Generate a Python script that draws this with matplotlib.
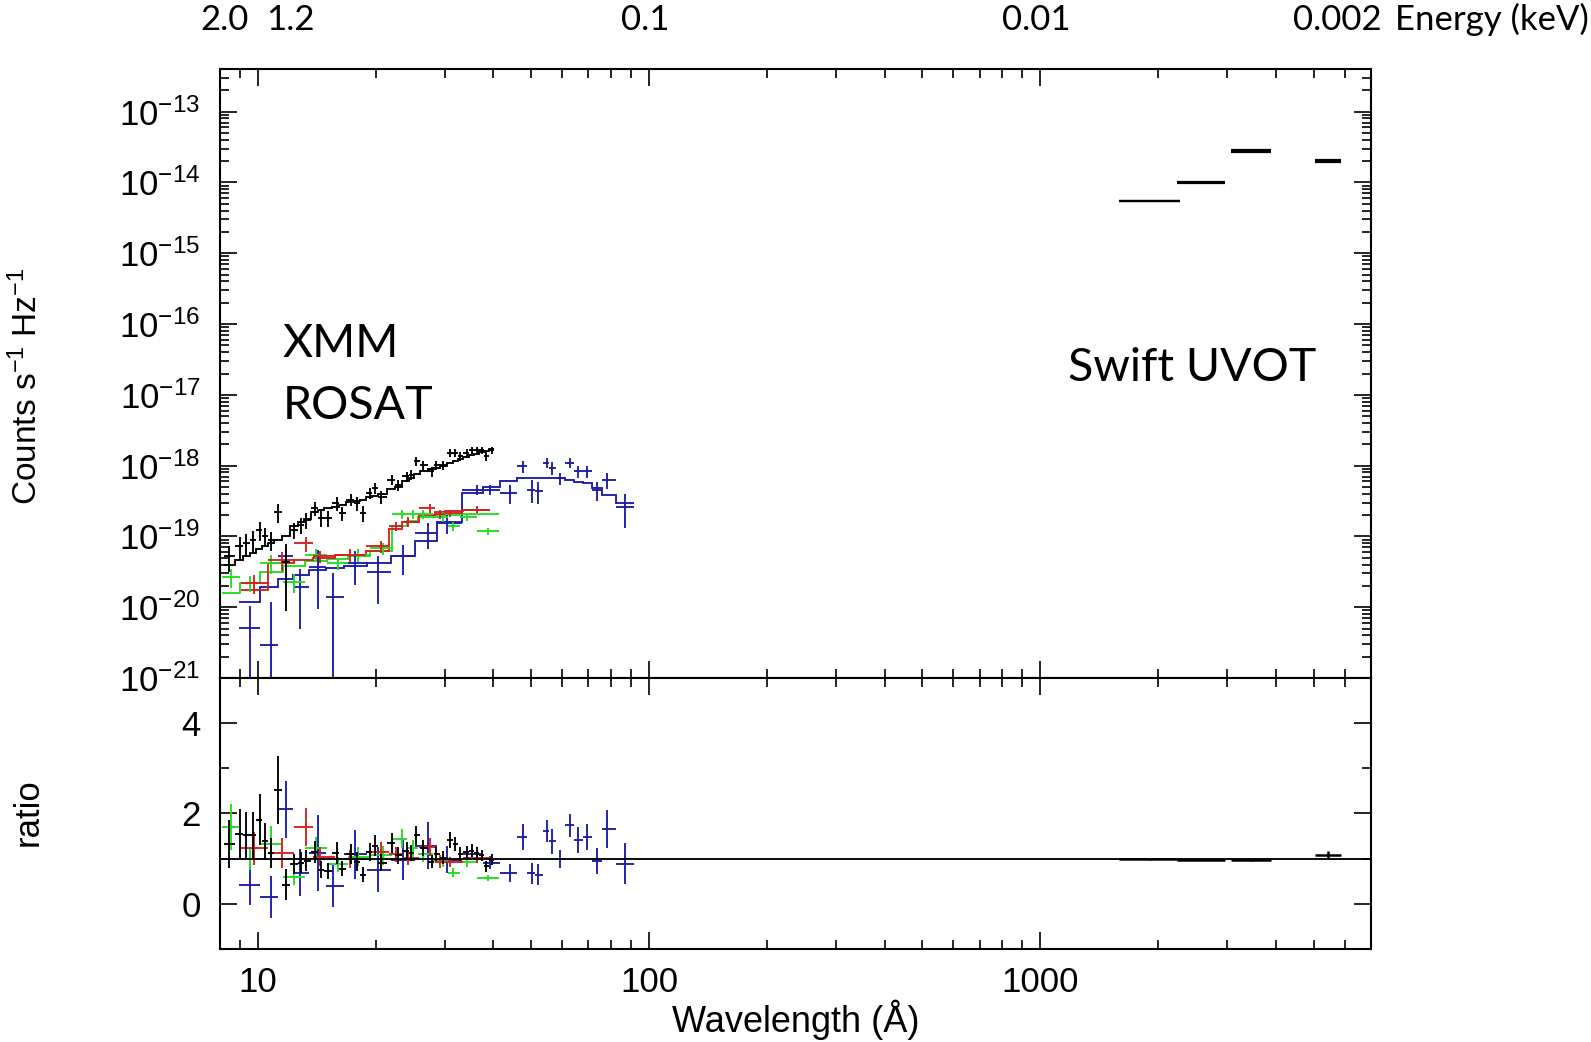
import numpy as np
import matplotlib.pyplot as plt
from matplotlib.ticker import LogLocator, FixedLocator, NullFormatter, FuncFormatter

plt.rcParams['font.family'] = ['Liberation Sans', 'DejaVu Sans']
plt.rcParams['mathtext.default'] = 'regular'

# XMM pn (black): wavelength (A), log10 flux, log10 model, fractional error
pn_wave = [8.46, 8.98, 9.34, 9.71, 10.1, 10.4, 10.8, 11.25, 11.8, 12.4, 12.9, 13.3, 14.0, 14.5,
           15.1, 15.9, 16.4, 17.3, 17.9, 18.6, 19.3, 19.9, 20.7, 22.0, 22.8, 24.0, 24.7, 25.4,
           26.5, 27.8, 28.6, 29.8, 31.0, 31.9, 32.9, 34.2, 35.2, 36.3, 37.3, 38.4, 39.6]
pn_logf = [-19.28, -19.14, -19.10, -19.05, -18.91, -19.00, -19.05, -18.65, -19.36, -18.91, -18.84,
           -18.77, -18.60, -18.74, -18.74, -18.53, -18.67, -18.48, -18.53, -18.67, -18.39, -18.32,
           -18.44, -18.20, -18.27, -18.15, -18.13, -17.94, -17.99, -18.08, -17.99, -17.99, -17.82,
           -17.82, -17.87, -17.82, -17.78, -17.78, -17.78, -17.87, -17.78]
pn_logm = [-19.40, -19.33, -19.28, -19.23, -19.18, -19.14, -19.10, -19.05, -18.99, -18.86, -18.80,
           -18.75, -18.66, -18.62, -18.60, -18.58, -18.56, -18.52, -18.50, -18.48, -18.45, -18.43,
           -18.40, -18.33, -18.30, -18.22, -18.18, -18.12, -18.08, -18.05, -18.03, -18.00, -17.97,
           -17.94, -17.91, -17.88, -17.85, -17.83, -17.81, -17.79, -17.77]
pn_err = [0.40, 0.35, 0.35, 0.35, 0.30, 0.30, 0.30, 0.30, 0.80, 0.25, 0.25, 0.25, 0.22, 0.25,
          0.25, 0.22, 0.22, 0.20, 0.22, 0.25, 0.18, 0.18, 0.20, 0.16, 0.18, 0.16, 0.16, 0.14,
          0.14, 0.16, 0.14, 0.14, 0.12, 0.12, 0.14, 0.12, 0.12, 0.12, 0.12, 0.14, 0.12]

# XMM MOS1 (red)
m1_wave = [9.8, 11.5, 13.3, 14.4, 17.2, 20.7, 22.6, 24.2, 27.5, 29.2, 31.0, 36.3]
m1_logf = [-19.66, -19.33, -19.10, -19.28, -19.26, -19.14, -18.86, -18.79, -18.60, -18.69, -18.67, -18.62]
m1_logm = [-19.75, -19.38, -19.33, -19.30, -19.26, -19.20, -18.90, -18.80, -18.70, -18.66, -18.64, -18.63]
m1_err = [0.30, 0.30, 0.25, 0.20, 0.20, 0.20, 0.15, 0.15, 0.15, 0.15, 0.12, 0.12]

# XMM MOS2 (green)
m2_wave = [8.55, 9.52, 10.8, 12.4, 14.1, 16.0, 18.0, 20.9, 23.3, 24.9, 26.5, 29.8, 31.6, 34.2, 38.8]
m2_logf = [-19.57, -19.66, -19.38, -19.64, -19.26, -19.38, -19.26, -19.17, -18.69, -18.69, -18.69,
           -18.72, -18.86, -18.72, -18.93]
m2_logm = [-19.80, -19.66, -19.50, -19.42, -19.35, -19.32, -19.28, -19.20, -18.85, -18.78, -18.73,
           -18.70, -18.70, -18.69, -18.69]
m2_err = [0.30, 0.25, 0.30, 0.30, 0.20, 0.20, 0.20, 0.20, 0.15, 0.15, 0.15, 0.15, 0.15, 0.12, 0.12]

# ROSAT PSPC (blue)
ps_wave = [9.52, 10.8, 11.8, 12.8, 14.25, 15.6, 17.7, 20.3, 23.5, 27.2, 30.4, 36.3, 39.2, 44.1,
           47.7, 50.1, 52.1, 54.8, 56.4, 59.3, 62.8, 66.0, 69.3, 73.5, 78.0, 86.9]
ps_logf = [-20.30, -20.53, -19.28, -19.71, -19.43, -19.85, -19.38, -19.50, -19.28, -18.95, -18.81,
           -18.34, -18.34, -18.39, -18.01, -18.34, -18.36, -17.96, -18.03, -18.18, -17.96, -18.08,
           -18.08, -18.34, -18.20, -18.58]
ps_logm = [-19.92, -19.71, -19.60, -19.55, -19.48, -19.45, -19.42, -19.38, -19.27, -19.06, -18.80,
           -18.38, -18.30, -18.22, -18.18, -18.17, -18.17, -18.17, -18.17, -18.18, -18.20, -18.23,
           -18.25, -18.32, -18.42, -18.53]
ps_err = [1.05, 3.0, 0.30, 0.75, 0.75, 1.15, 0.50, 0.65, 0.45, 0.40, 0.30, 0.15, 0.15, 0.30,
          0.20, 0.35, 0.35, 0.15, 0.20, 0.20, 0.15, 0.20, 0.20, 0.30, 0.25, 0.50]

# Swift UVOT filters
uv_wave = [1907, 2579, 3459, 5455]
uv_lo = [1593, 2239, 3077, 5050]
uv_hi = [2283, 2972, 3892, 5888]
uv_logf = [-14.263, -14.008, -13.565, -13.680]
uv_ratio = [0.99, 0.97, 0.96, 1.09]
uv_err = [0.01, 0.01, 0.02, 0.07]

energy_labels = ['2.0', '1.2', '0.1', '0.01', '0.002', 'Energy (keV)']
energy_xpos = [225, 290, 645, 1036, 1337, 1492]

colors = {'pn': 'black', 'm1': '#d81e1e', 'm2': '#22dd22', 'ps': '#1c1ca8'}
LW = 1.35

W, H = 1591, 1042
fig = plt.figure(figsize=(W / 100, H / 100), dpi=100)
ax = fig.add_axes([220 / W, 1 - 678 / H, 1150.7 / W, 609 / H])
axr = fig.add_axes([220 / W, 1 - 949 / H, 1150.7 / W, 271 / H], sharex=ax)


def bin_edges(w):
    lw = np.log10(w)
    mid = (lw[1:] + lw[:-1]) / 2
    return 10 ** np.concatenate([[2 * lw[0] - mid[0]], mid, [2 * lw[-1] - mid[-1]]])


def plot_set(wave, logf, logm, err, color):
    wave = np.array(wave)
    err = np.array(err)
    e = bin_edges(wave)
    f = 10 ** np.array(logf)
    m = 10 ** np.array(logm)
    xerr = [wave - e[:-1], e[1:] - wave]
    ax.errorbar(wave, f, yerr=f * err, xerr=xerr, fmt='none', ecolor=color, elinewidth=LW)
    ax.stairs(m, e, baseline=None, color=color, lw=LW)
    r = f / m
    axr.errorbar(wave, r, yerr=r * err, xerr=xerr, fmt='none', ecolor=color, elinewidth=LW)


plot_set(ps_wave, ps_logf, ps_logm, ps_err, colors['ps'])
plot_set(m2_wave, m2_logf, m2_logm, m2_err, colors['m2'])
plot_set(m1_wave, m1_logf, m1_logm, m1_err, colors['m1'])
plot_set(pn_wave, pn_logf, pn_logm, pn_err, colors['pn'])

# UVOT
uw = np.array(uv_wave)
uf = 10 ** np.array(uv_logf)
ur = np.array(uv_ratio)
uxerr = [uw - np.array(uv_lo), np.array(uv_hi) - uw]
ax.errorbar(uw, uf, xerr=uxerr, fmt='none', ecolor='black', elinewidth=1.6)
ax.hlines(uf / ur, uv_lo, uv_hi, color='black', lw=1.6)
axr.errorbar(uw, ur, yerr=ur * np.array(uv_err), xerr=uxerr, fmt='none', ecolor='black', elinewidth=1.8)

axr.axhline(1, color='black', lw=LW)

# axes
ax.set_xscale('log')
ax.set_yscale('log')
ax.set_xlim(8, 7000)
ax.set_ylim(1e-21, 4e-13)
axr.set_ylim(-1, 5)

for a in (ax, axr):
    a.xaxis.set_major_locator(FixedLocator([10, 100, 1000]))
    a.xaxis.set_minor_locator(LogLocator(base=10, subs=np.arange(2, 10), numticks=100))
    a.xaxis.set_minor_formatter(NullFormatter())
    a.tick_params(which='both', direction='in', top=True, right=True, width=1.2, labelsize=25)
    a.tick_params(which='major', length=12)
    a.tick_params(which='minor', length=6.5)
    for s in a.spines.values():
        s.set_linewidth(1.5)

ax.yaxis.set_major_locator(FixedLocator(10.0 ** np.arange(-21, -12)))
ax.yaxis.set_minor_locator(LogLocator(base=10, subs=np.arange(2, 10), numticks=200))
ax.yaxis.set_minor_formatter(NullFormatter())
ax.tick_params(axis='x', labelbottom=False)
ax.tick_params(axis='y', pad=14)

axr.yaxis.set_major_locator(FixedLocator([0, 2, 4]))
axr.yaxis.set_minor_locator(FixedLocator([1, 3]))
axr.tick_params(axis='y', pad=14)
axr.tick_params(axis='x', pad=12)
axr.xaxis.set_major_formatter(FuncFormatter(lambda v, p: f'{v:g}'))

fig.text(27 / W, 1 - 386 / H, 'Counts s$^{-1}$ Hz$^{-1}$', rotation=90, ha='center', va='center', fontsize=24)
fig.text(28 / W, 1 - 812 / H, 'ratio', rotation=90, ha='center', va='center', fontsize=25)
fig.text(796 / W, 1 - 1020 / H, 'Wavelength (Å)', ha='center', va='center', fontsize=26)

# annotations
fig.text(283 / W, 1 - 357 / H, 'XMM', fontsize=33.5, family='Lato', va='baseline')
fig.text(283 / W, 1 - 419 / H, 'ROSAT', fontsize=33.5, family='Lato', va='baseline')
fig.text(1068 / W, 1 - 381 / H, 'Swift UVOT', fontsize=33.5, family='Lato', va='baseline')
for lab, xp in zip(energy_labels, energy_xpos):
    fig.text(xp / W, 1 - 30 / H, lab, fontsize=25, family='Lato', ha='center', va='baseline')

fig.savefig('out.png', dpi=100)
